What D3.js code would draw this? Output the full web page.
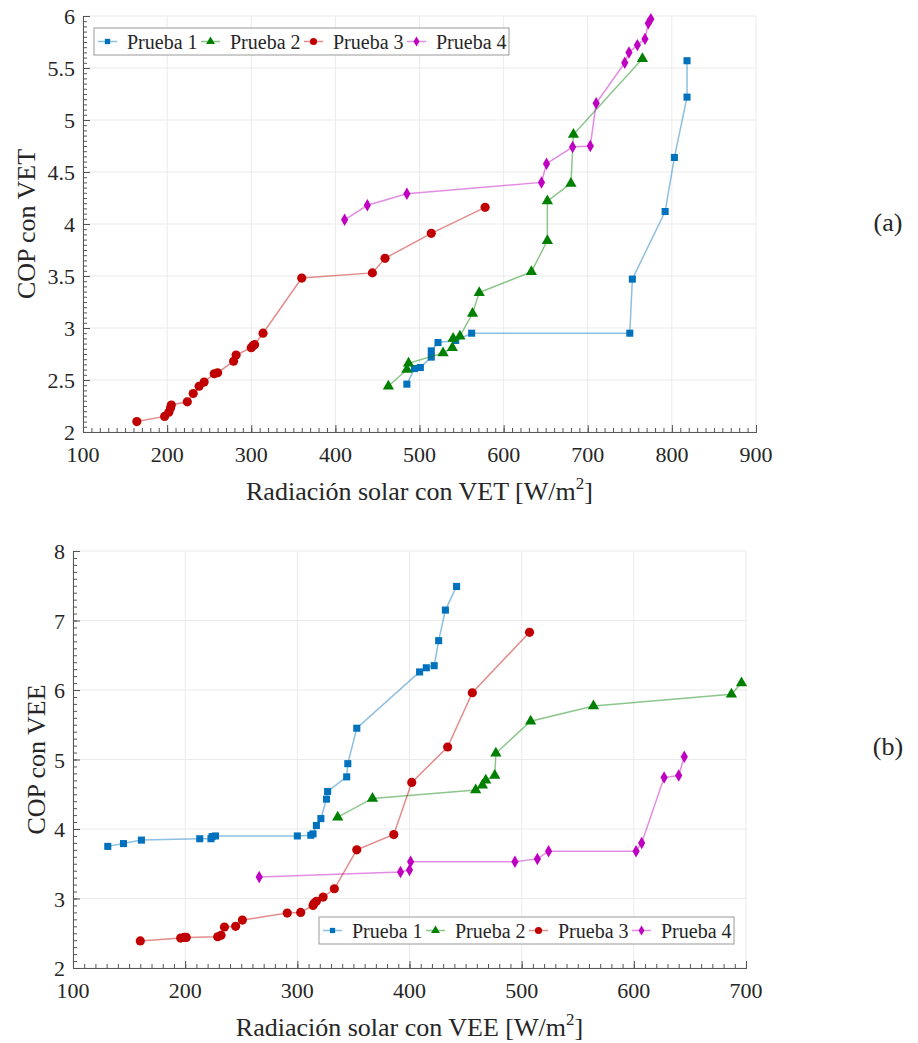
<!DOCTYPE html>
<html>
<head>
<meta charset="utf-8">
<script src="https://cdn.jsdelivr.net/npm/d3@7"></script>
<style>
  body { margin: 0; background: #fff; }
  text { font-family: "Liberation Serif", "Times New Roman", Times, serif; fill: #262626; }
</style>
</head>
<body>
<svg id="chart"></svg>
<script>
// Series names and colours
let seriesNames = ["Prueba 1", "Prueba 2", "Prueba 3", "Prueba 4"];
let seriesColors = ["#0072bd", "#008000", "#c00000", "#c000c0"];

// (a) radiation with VET [W/m2] vs COP
let vetPrueba1 = [[485, 2.46], [494, 2.61], [501, 2.62], [514, 2.72], [514, 2.78], [522, 2.86],
  [543, 2.88], [562, 2.95], [750, 2.95], [753, 3.47], [792, 4.12], [803, 4.64], [818, 5.22], [818, 5.57]];
let vetPrueba2 = [[463, 2.44], [485, 2.60], [487, 2.66], [528, 2.76], [539, 2.81], [540, 2.90],
  [548, 2.92], [563, 3.14], [571, 3.34], [633, 3.54], [652, 3.84], [652, 4.22], [680, 4.39],
  [683, 4.86], [765, 5.59]];
let vetPrueba3 = [[164, 2.10], [197, 2.15], [202, 2.19], [204, 2.23], [205, 2.26], [224, 2.29],
  [231, 2.37], [238, 2.44], [244, 2.48], [256, 2.56], [260, 2.57], [279, 2.68], [282, 2.74],
  [300, 2.81], [302, 2.83], [304, 2.84], [314, 2.95], [360, 3.48], [444, 3.53], [459, 3.67],
  [514, 3.91], [578, 4.16]];
let vetPrueba4 = [[411, 4.04], [438, 4.18], [485, 4.29], [645, 4.40], [651, 4.58], [682, 4.74],
  [703, 4.75], [710, 5.16], [744, 5.55], [749, 5.65], [759, 5.72], [768, 5.78], [772, 5.93], [775, 5.97]];

// (b) radiation with VEE [W/m2] vs COP
let veePrueba1 = [[131, 3.75], [145, 3.79], [161, 3.84], [213, 3.86], [223, 3.86], [224, 3.89],
  [227, 3.90], [300, 3.90], [312, 3.91], [314, 3.93], [317, 4.05], [321, 4.15], [326, 4.43],
  [327, 4.54], [344, 4.75], [345, 4.94], [353, 5.45], [409, 6.26], [415, 6.32], [422, 6.35],
  [426, 6.71], [432, 7.15], [442, 7.49]];
let veePrueba2 = [[336, 4.17], [367, 4.44], [459, 4.56], [465, 4.63], [468, 4.70], [476, 4.77],
  [477, 5.09], [508, 5.55], [564, 5.77], [687, 5.94], [696, 6.10]];
let veePrueba3 = [[160, 2.39], [196, 2.43], [199, 2.44], [201, 2.44], [229, 2.45], [232, 2.47],
  [235, 2.59], [245, 2.60], [251, 2.69], [291, 2.79], [303, 2.80], [314, 2.90], [315, 2.93],
  [317, 2.96], [323, 3.02], [333, 3.14], [353, 3.70], [386, 3.92], [402, 4.67], [434, 5.18],
  [456, 5.96], [507, 6.83]];
let veePrueba4 = [[266, 3.31], [392, 3.38], [400, 3.41], [401, 3.53], [494, 3.53], [514, 3.57],
  [524, 3.68], [602, 3.68], [607, 3.80], [627, 4.74], [640, 4.77], [645, 5.04]];

let width = 918, height = 1043;
let svg = d3.select("#chart").attr("width", width).attr("height", height);

let symbols = [
  d3.symbol().type(d3.symbolSquare).size(50),
  d3.symbol().type(d3.symbolTriangle).size(55),
  d3.symbol().type(d3.symbolCircle).size(66),
  d3.symbol().type(d3.symbolDiamond).size(45)
];
let legendSymbols = [
  d3.symbol().type(d3.symbolSquare).size(28),
  d3.symbol().type(d3.symbolTriangle).size(34),
  d3.symbol().type(d3.symbolCircle).size(40),
  d3.symbol().type(d3.symbolDiamond).size(30)
];

function drawPanel(p) {
  let x = d3.scaleLinear().domain(p.xDomain).range([p.left, p.right]);
  let y = d3.scaleLinear().domain(p.yDomain).range([p.bottom, p.top]);
  let g = svg.append("g");

  // Grid
  let xMajor = d3.range(p.xDomain[0], p.xDomain[1] + 1e-9, p.xStep);
  let yMajor = d3.range(p.yDomain[0], p.yDomain[1] + 1e-9, p.yStep);
  g.append("g").selectAll("line").data(xMajor).join("line")
    .attr("x1", d => x(d)).attr("x2", d => x(d))
    .attr("y1", p.top).attr("y2", p.bottom)
    .attr("stroke", "#ebebeb").attr("stroke-width", 1);
  g.append("g").selectAll("line").data(yMajor).join("line")
    .attr("x1", p.left).attr("x2", p.right)
    .attr("y1", d => y(d)).attr("y2", d => y(d))
    .attr("stroke", "#ebebeb").attr("stroke-width", 1);

  // Axes with inward ticks
  let xAxis = d3.axisTop(x).tickValues(xMajor).tickSize(7).tickFormat("");
  let xMinor = d3.axisTop(x).tickValues(d3.range(p.xDomain[0], p.xDomain[1] + 1e-9, p.xMinor)).tickSize(4).tickFormat("");
  let yAxis = d3.axisRight(y).tickValues(yMajor).tickSize(7).tickFormat("");
  let yMinor = d3.axisRight(y).tickValues(d3.range(p.yDomain[0], p.yDomain[1] + 1e-9, p.yMinor)).tickSize(4).tickFormat("");

  [xMinor, xAxis].forEach(a => {
    g.append("g").attr("transform", "translate(0," + p.bottom + ")").call(a)
      .call(s => s.selectAll("line, path").attr("stroke", "#555"));
  });
  [yMinor, yAxis].forEach(a => {
    g.append("g").attr("transform", "translate(" + p.left + ",0)").call(a)
      .call(s => s.selectAll("line, path").attr("stroke", "#555"));
  });

  // Tick labels
  g.append("g").selectAll("text").data(xMajor).join("text")
    .attr("x", d => x(d)).attr("y", p.bottom + 30)
    .attr("text-anchor", "middle").style("font-size", "22px")
    .text(d => d);
  g.append("g").selectAll("text").data(yMajor).join("text")
    .attr("x", p.left - 8).attr("y", d => y(d) + 8)
    .attr("text-anchor", "end").style("font-size", "22px")
    .text(d => +d.toFixed(1));

  // Axis titles
  let xt = g.append("text")
    .attr("x", (p.left + p.right) / 2).attr("y", p.bottom + 68)
    .attr("text-anchor", "middle").style("font-size", "26px");
  xt.append("tspan").text(p.xTitle + " [W/m");
  xt.append("tspan").attr("dy", -11).style("font-size", "17px").text("2");
  xt.append("tspan").attr("dy", 11).text("]");

  g.append("text")
    .attr("transform", "translate(" + p.yTitleX + "," + (p.top + p.bottom) / 2 + ") rotate(-90)")
    .attr("text-anchor", "middle").style("font-size", "26px")
    .text(p.yTitle);

  g.append("text")
    .attr("x", 888).attr("y", p.tagY + 9)
    .attr("text-anchor", "middle").style("font-size", "26px")
    .text(p.tag);

  // Series
  let line = d3.line().x(d => x(d[0])).y(d => y(d[1]));
  p.series.forEach((data, i) => {
    g.append("path").datum(data)
      .attr("d", line)
      .attr("fill", "none")
      .attr("stroke", seriesColors[i])
      .attr("stroke-opacity", 0.45)
      .attr("stroke-width", 1.5);
    g.append("g").selectAll("path").data(data).join("path")
      .attr("d", symbols[i])
      .attr("transform", d => "translate(" + x(d[0]) + "," + y(d[1]) + ")")
      .attr("fill", seriesColors[i]);
  });

  // Legend
  let lg = g.append("g").attr("transform", "translate(" + p.legendX + "," + p.legendY + ")");
  lg.append("rect").attr("width", 415).attr("height", 27)
    .attr("fill", "#fff").attr("stroke", "#999").attr("stroke-width", 1);
  seriesNames.forEach((name, i) => {
    let e = lg.append("g").attr("transform", "translate(" + (i * 103) + ",0)");
    e.append("line").attr("x1", 4).attr("x2", 23).attr("y1", 13.5).attr("y2", 13.5)
      .attr("stroke", seriesColors[i]).attr("stroke-opacity", 0.45).attr("stroke-width", 1.5);
    e.append("path").attr("d", legendSymbols[i]).attr("transform", "translate(13.5,13.5)")
      .attr("fill", seriesColors[i]);
    e.append("text").attr("x", 33).attr("y", 20.5).style("font-size", "20px").text(name);
  });
}

drawPanel({
  xDomain: [100, 900], yDomain: [2, 6], xStep: 100, yStep: 0.5, xMinor: 10, yMinor: 0.05,
  left: 83, right: 756, top: 16, bottom: 432,
  xTitle: "Radiación solar con VET", yTitle: "COP con VET", yTitleX: 35,
  tag: "(a)", tagY: 222, legendX: 94, legendY: 28,
  series: [vetPrueba1, vetPrueba2, vetPrueba3, vetPrueba4]
});

drawPanel({
  xDomain: [100, 700], yDomain: [2, 8], xStep: 100, yStep: 1, xMinor: 10, yMinor: 0.1,
  left: 73, right: 746, top: 551, bottom: 968,
  xTitle: "Radiación solar con VEE", yTitle: "COP con VEE", yTitleX: 45,
  tag: "(b)", tagY: 746, legendX: 319, legendY: 917,
  series: [veePrueba1, veePrueba2, veePrueba3, veePrueba4]
});
</script>
</body>
</html>
